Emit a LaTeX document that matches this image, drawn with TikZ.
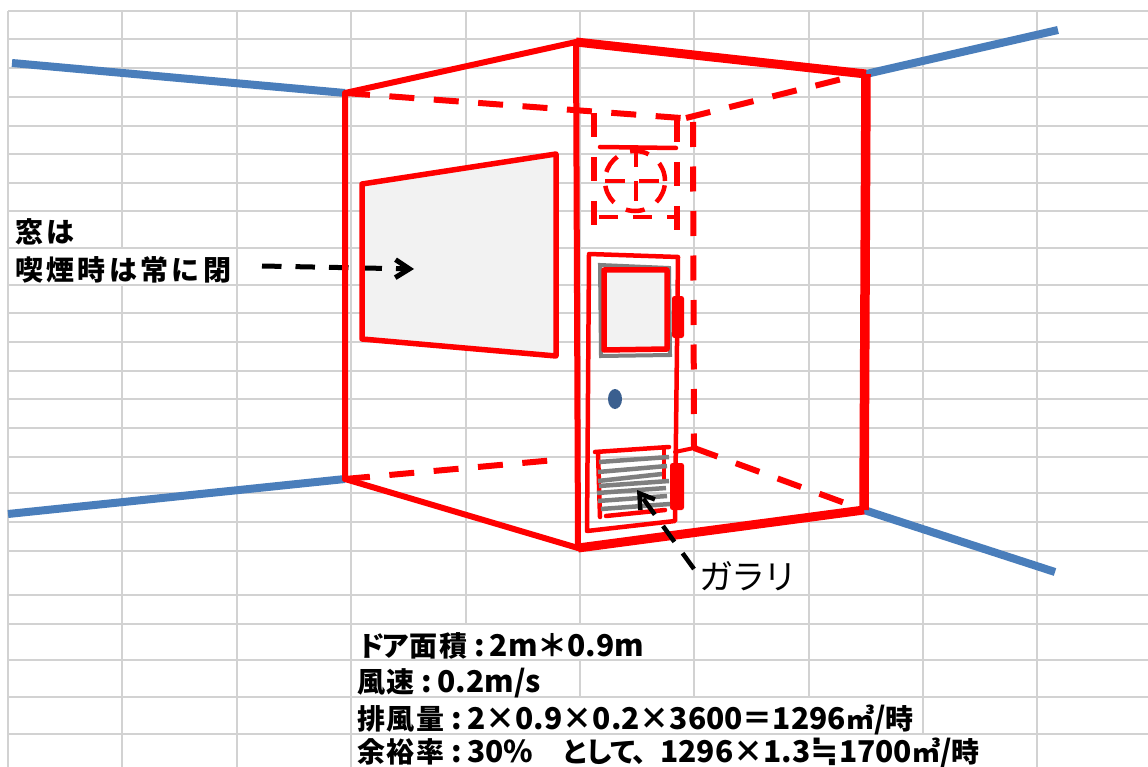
\documentclass[tikz,border=0pt]{standalone}
\usepackage{fontspec}
\usetikzlibrary{arrows.meta,shapes.geometric}
\newfontfamily\cjk[LetterSpace=7]{Noto Sans CJK JP}
\newfontfamily\cjkwide[LetterSpace=12]{Noto Sans CJK JP}
\newfontfamily\latplain{Noto Sans CJK JP}
\newfontfamily\kanafont[LetterSpace=-13]{Noto Sans CJK JP}
\newfontfamily\cjknarrow[LetterSpace=-6]{Noto Sans CJK JP}
\newfontfamily\symfont{DejaVu Sans}
\newcommand{\latrun}[1]{{\fontsize{30pt}{30pt}\selectfont\latplain #1}}
\newcommand{\colonx}{\kern7pt\latrun{:}\kern5pt}
\newcommand{\kanarun}[1]{{\kanafont #1}}
\definecolor{gridc}{HTML}{D2D2D2}
\definecolor{wallblue}{HTML}{4A7EBB}
\definecolor{glass}{HTML}{F2F2F2}
\definecolor{knobc}{HTML}{3A5F8F}
\definecolor{louver}{HTML}{7F7F7F}
\tikzset{
  gridline/.style={draw=gridc,line width=2pt},
  blueline/.style={draw=wallblue,line width=8pt},
  redline/.style={draw=red,line width=#1,line cap=round,line join=round},
  reddash/.style={draw=red,line width=6pt,dash pattern=on 25pt off 19.5pt},
  ductdash/.style={draw=red,line width=5.5pt,dash pattern=on 24pt off 20pt},
  fandash/.style={draw=red,line width=4.5pt,dash pattern=on 20pt off 14pt},
  louverline/.style={draw=louver,line width=4.5pt},
  blackarrow/.style={draw=black,line width=#1,dash pattern=on 19.5pt off 14pt,-{Straight Barb[length=14pt,width=18pt,line width=#1]}},
  textlabel/.style={anchor=base west,inner sep=0pt,outer sep=0pt,text depth=0pt,font=\fontsize{28pt}{28pt}\selectfont\cjk\bfseries},
}
\begin{document}
\begin{tikzpicture}[x=1pt,y=-1pt]
\useasboundingbox (0,0) rectangle (1148,767);
\fill[white] (0,0) rectangle (1148,767);
% spreadsheet grid
\foreach \y in {11,39,68,97,126,154,183,211,248,285,313,342,371,399,428,457,493,522,551,595,624,660,697,734}
  \draw[gridline] (8,\y) -- (1148,\y);
\foreach \x in {8,237,351,1037}
  \draw[gridline] (\x,11) -- (\x,767);
\draw[gridline] (122,11) -- (122,248) (122,285) -- (122,767);
\draw[gridline] (466,11) -- (466,624);
\draw[gridline] (580,11) -- (580,624) (580,660) -- (580,697);
\foreach \x in {694,809}
  \draw[gridline] (\x,11) -- (\x,697);
\draw[gridline] (923,11) -- (923,734);
% room corners
\coordinate (tl) at (345,93);
\coordinate (tm) at (576,42);
\coordinate (tr) at (866,74);
\coordinate (bl) at (345,479);
\coordinate (bm) at (578,548);
\coordinate (br) at (864,510);
\coordinate (itr) at (686,118);
\coordinate (itre) at (842,79);
\coordinate (ibr) at (694,448);
% blue wall lines
\coordinate (b1) at (12,63);
\coordinate (b2) at (1058,30);
\coordinate (b3) at (8,514);
\coordinate (b4) at (1055,572);
\draw[blueline] (b1) -- (tl);
\draw[blueline] (b2) -- (tr);
\draw[blueline] (b3) -- (bl);
\draw[blueline] (b4) -- (br);
% hidden edges
\coordinate (dt) at (681,118);
\coordinate (dbl) at (555,460);
\draw[reddash] (tl) -- (dt);
\draw[reddash] (itr) -- (itre);
\draw[reddash] (693,122) -- (ibr);
\draw[reddash] (ibr) -- (br);
\draw[reddash] (bl) -- (dbl);
\draw[redline=4pt] (ibr) -- (675,452);
% duct box with fan
\draw[ductdash] (594,113) -- (594,227);
\draw[ductdash] (677,118) -- (677,231);
\draw[fandash,dash pattern=on 19pt off 15pt] (599,217) -- (677,217);
\draw[redline=4.5pt] (600,147) -- (676,148);
\node[circle,minimum size=60pt,inner sep=0pt,draw=red,line width=4.5pt,dash pattern=on 19pt off 14pt] (fan) at (635,181) {};
\draw[fandash] (636,147) -- (636,205);
\draw[fandash] (605,181) -- (665,181);
% window
\coordinate (w1) at (362,184);
\coordinate (w2) at (556,154);
\coordinate (w3) at (556,356);
\coordinate (w4) at (362,339);
\fill[glass] (w1) -- (w2) -- (w3) -- (w4) -- cycle;
% arrow to window
\coordinate (a1s) at (262,266);
\coordinate (a1e) at (414,269);
\draw[blackarrow=5pt] (a1s) -- (a1e);
\draw[redline=5.5pt] (w1) -- (w2) -- (w3) -- (w4) -- cycle;
% door
\coordinate (d1) at (589,254);
\coordinate (d2) at (678,257);
\coordinate (d3) at (675,521);
\coordinate (d4) at (587,531);
\draw[redline=4.5pt] (d1) -- (d2) -- (d3) -- (d4) -- cycle;
\fill[red,rounded corners=2.5pt] (672,296) rectangle (684,338);
\fill[red,rounded corners=2.5pt] (670,463) rectangle (684,510);
% door glass
\draw[draw=louver,line width=4pt] (600,265) -- (669,268) -- (670,355) -- (601,356) -- cycle;
\draw[redline=5.5pt,fill=glass] (604,270) -- (667,270) -- (667,349) -- (604,350) -- cycle;
\node[ellipse,minimum width=14pt,minimum height=20pt,inner sep=0pt,fill=knobc] (knob) at (615,399) {};
% louver
\draw[redline=4.5pt] (595,452) -- (669,447);
\draw[redline=4.5pt] (598,452) -- (600,517);
\draw[redline=4.5pt] (664,449) -- (664,480);
\draw[redline=4.5pt] (606,516) -- (665,510);
\draw[louverline] (599,462) -- (669,457);
\draw[louverline] (598,472) -- (667,466);
\draw[louverline] (598,481) -- (662,474);
\draw[louverline] (599,486) -- (669,481);
\draw[louverline] (597,493) -- (666,488);
\draw[louverline] (598,501) -- (667,496);
\draw[louverline] (601,509) -- (670,504);
% room outline
\draw[redline=6pt] (bl) -- (tl) -- (tm);
\draw[redline=9pt,line cap=butt] (tm) -- (tr);
\draw[redline=9.5pt,line cap=butt] (tr) -- (br);
\draw[redline=9pt,line cap=butt] (br) -- (bm);
\draw[redline=6pt] (bm) -- (bl);
\draw[redline=6pt] (tm) -- (bm);
% labels
\node[textlabel] (t1) at (15,243) {{\cjkwide 窓は}};
\node[textlabel] (t2) at (15,280) {{\cjkwide 喫煙時は常に閉}};
\coordinate (a2s) at (694,569);
\coordinate (a2e) at (637,490);
\draw[blackarrow=4.5pt] (a2s) -- (a2e);
\node[anchor=base west,inner sep=0pt,font=\fontsize{34pt}{34pt}\selectfont\cjknarrow] (t3) at (699,589) {ガラリ};
\node[textlabel] (l1) at (357,656) {\kanarun{ドア}面積\colonx\latrun{2m＊0.9m}};
\node[textlabel] (l2) at (357,692) {風速\colonx\latrun{0.2m/s}};
\node[textlabel] (l3) at (357,729) {排風量\colonx\latrun{2×0.9×0.2×3600＝1296}㎥\latrun{/}時};
\node[textlabel] (l4) at (357,762) {余裕率\colonx\latrun{30\%}　\kanarun{として、}\latrun{1296×1.3}{\fontsize{34pt}{34pt}\selectfont\symfont ≒}\latrun{1700}㎥\latrun{/}時};
\end{tikzpicture}
\end{document}
